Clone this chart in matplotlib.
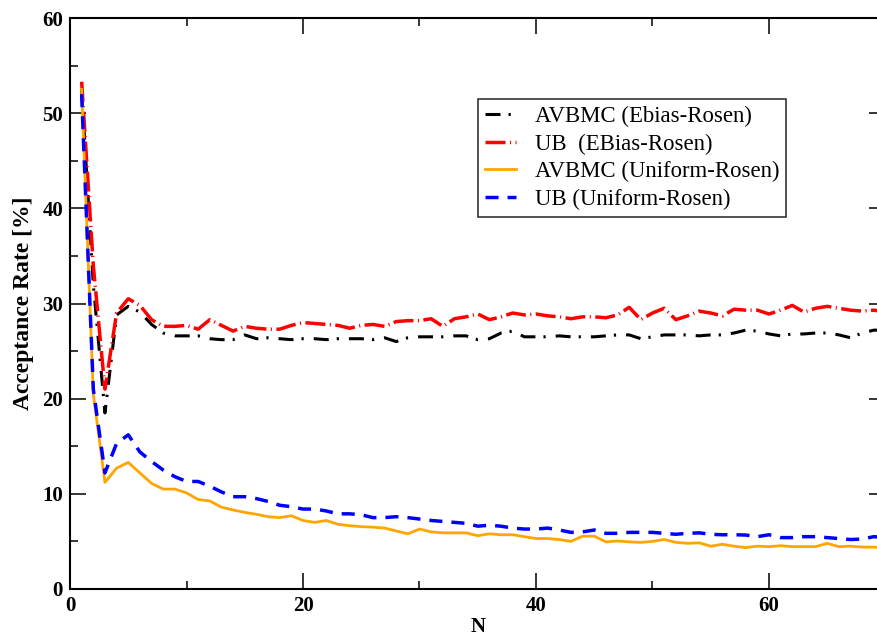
import matplotlib
matplotlib.use("Agg")
import matplotlib.pyplot as plt
from matplotlib.ticker import MultipleLocator

N = list(range(1, 71))

avbmc_ebias = [52.5, 32.0, 18.5, 28.8, 29.7, 29.1, 27.8, 26.9, 26.6, 26.6,
               26.6, 26.3, 26.2, 26.2, 26.7, 26.3, 26.4, 26.3, 26.2, 26.3,
               26.3, 26.2, 26.3, 26.3, 26.3, 26.2, 26.4, 26.0, 26.4, 26.5,
               26.5, 26.5, 26.6, 26.6, 26.2, 26.3, 26.9, 27.1, 26.5, 26.5,
               26.5, 26.6, 26.5, 26.5, 26.5, 26.6, 26.7, 26.7, 26.3, 26.5,
               26.7, 26.7, 26.7, 26.6, 26.7, 26.7, 26.9, 27.2, 27.1, 26.8,
               26.6, 26.8, 26.8, 26.9, 26.9, 26.7, 26.4, 26.9, 27.2, 27.2]

ub_ebias = [53.3, 34.0, 21.0, 29.0, 30.5, 29.8, 28.3, 27.6, 27.6, 27.7,
            27.3, 28.3, 27.7, 27.1, 27.6, 27.4, 27.3, 27.3, 27.7, 28.0,
            27.9, 27.8, 27.7, 27.4, 27.7, 27.8, 27.6, 28.1, 28.2, 28.2,
            28.4, 27.6, 28.4, 28.6, 28.9, 28.3, 28.6, 29.0, 28.8, 28.9,
            28.7, 28.6, 28.4, 28.6, 28.6, 28.5, 28.8, 29.6, 28.3, 29.0,
            29.5, 28.3, 28.7, 29.2, 29.0, 28.7, 29.4, 29.3, 29.3, 28.9,
            29.3, 29.8, 29.1, 29.5, 29.7, 29.5, 29.3, 29.2, 29.3, 29.1]

avbmc_uniform = [52.5, 20.5, 11.2, 12.7, 13.3, 12.2, 11.1, 10.5, 10.5, 10.1,
                 9.4, 9.25, 8.6, 8.3, 8.05, 7.85, 7.6, 7.5, 7.7, 7.2,
                 7.0, 7.2, 6.8, 6.65, 6.55, 6.5, 6.4, 6.1, 5.8, 6.3,
                 6.0, 5.9, 5.9, 5.9, 5.6, 5.8, 5.7, 5.7, 5.5, 5.3,
                 5.3, 5.2, 5.0, 5.55, 5.55, 4.95, 5.05, 4.95, 4.9, 5.0,
                 5.2, 4.9, 4.8, 4.85, 4.5, 4.7, 4.5, 4.35, 4.5, 4.45,
                 4.55, 4.45, 4.45, 4.45, 4.8, 4.45, 4.5, 4.4, 4.4, 4.3]

ub_uniform = [52.0, 21.0, 12.2, 15.3, 16.2, 14.4, 13.4, 12.5, 11.8, 11.3,
              11.3, 10.8, 10.2, 9.7, 9.7, 9.5, 9.2, 8.8, 8.65, 8.4,
              8.4, 8.2, 7.9, 7.9, 7.8, 7.5, 7.5, 7.6, 7.5, 7.35,
              7.2, 7.1, 7.0, 6.9, 6.6, 6.7, 6.6, 6.4, 6.3, 6.3,
              6.4, 6.2, 5.95, 6.0, 6.2, 5.85, 5.85, 5.95, 5.95, 5.95,
              5.85, 5.75, 5.85, 5.9, 5.75, 5.7, 5.7, 5.67, 5.5, 5.7,
              5.4, 5.4, 5.5, 5.5, 5.4, 5.3, 5.2, 5.25, 5.5, 5.4]

labels = ["AVBMC (Ebias-Rosen)", "UB  (EBias-Rosen)",
          "AVBMC (Uniform-Rosen)", "UB (Uniform-Rosen)"]

plt.rcParams['font.family'] = ['Liberation Serif', 'DejaVu Serif']
plt.rcParams['lines.scale_dashes'] = False

fig = plt.figure(figsize=(8.78, 6.38), dpi=100)
ax = fig.add_axes([70/878, 49/638, 815.5/878, 571/638])

ax.plot(N, avbmc_ebias, color='black', lw=2.2, dashes=(10.8, 5.8, 1.6, 7.2),
        label=labels[0])
ax.plot(N, ub_ebias, color='red', lw=2.5, dashes=(14.4, 3.2, 0.8, 3.2),
        label=labels[1])
ax.plot(N, avbmc_uniform, color='#FFA500', lw=2.0, label=labels[2])
ax.plot(N, ub_uniform, color='blue', lw=2.5, dashes=(9.4, 6.5),
        label=labels[3])

ax.set_xlim(0, 70)
ax.set_ylim(0, 60)
ax.xaxis.set_major_locator(MultipleLocator(20))
ax.xaxis.set_minor_locator(MultipleLocator(10))
ax.yaxis.set_major_locator(MultipleLocator(10))
ax.yaxis.set_minor_locator(MultipleLocator(5))
ax.tick_params(which='both', direction='in', top=True, right=True, width=1.1)
ax.tick_params(which='major', length=11.5, labelsize=15, pad=5)
ax.tick_params(which='minor', length=5.8)
for lab in ax.get_xticklabels() + ax.get_yticklabels():
    lab.set_fontweight('bold')
for s in ax.spines.values():
    s.set_linewidth(1.5)

ax.set_xlabel("N", fontsize=15, fontweight='bold', labelpad=1)
ax.set_ylabel("Acceptance Rate [%]", fontsize=17, fontweight='bold', labelpad=6)

leg = ax.legend(loc='upper left', bbox_to_anchor=(0.500, 0.858),
                borderaxespad=0, fontsize=16.4, frameon=True, fancybox=False,
                handlelength=1.4, handletextpad=0.8, labelspacing=0.28,
                borderpad=0.3)
leg.get_frame().set_edgecolor('black')
leg.get_frame().set_linewidth(1.2)

fig.savefig("out.png", dpi=100)
